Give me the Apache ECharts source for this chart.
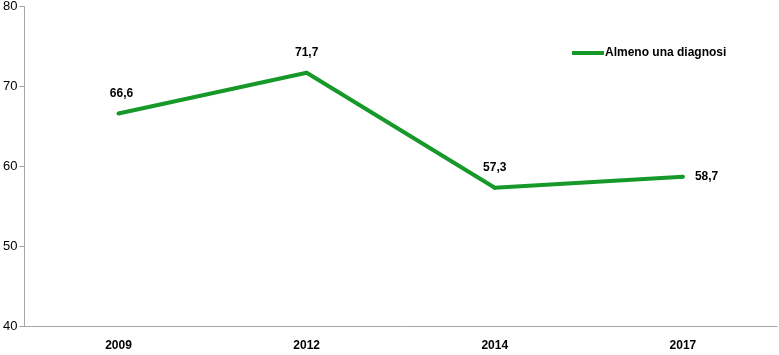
<!DOCTYPE html>
<html>
<head>
<meta charset="utf-8">
<script src="https://cdn.jsdelivr.net/npm/echarts@6/dist/echarts.min.js"></script>
<style>
  html, body { margin: 0; padding: 0; background: #fff; }
  #chart { width: 779px; height: 355px; }
</style>
</head>
<body>
<div id="chart"></div>
<script>
const years = ['2009', '2012', '2014', '2017'];
const values = [66.6, 71.7, 57.3, 58.7];
const seriesName = 'Almeno una diagnosi';

const green = '#17992a';

const chart = echarts.init(document.getElementById('chart'));

// ultimo valore a destra del punto, gli altri sopra
const seriesData = values.map((v, i) => {
  if (i === values.length - 1) {
    return { value: v, label: { position: 'right', distance: 10 } };
  }
  if (i === 0) {
    return { value: v, label: { offset: [3, 0] } };
  }
  return v;
});

const option = {
  animation: false,
  grid: { left: 24, right: 2, top: 6, bottom: 29 },
  legend: {
    data: [seriesName],
    left: 567,
    top: 42,
    itemWidth: 32,
    itemHeight: 4,
    itemGap: 0,
    icon: 'rect',
    itemStyle: { color: green, opacity: 1 },
    textStyle: {
      fontFamily: 'Liberation Sans',
      fontSize: 12,
      fontWeight: 'bold',
      color: '#000',
      padding: [0, 0, 0, -4]
    }
  },
  xAxis: {
    type: 'category',
    data: years,
    boundaryGap: true,
    axisLine: { lineStyle: { color: '#a6a6a6' } },
    axisTick: { length: 5, lineStyle: { color: '#a6a6a6' } },
    axisLabel: {
      fontFamily: 'Liberation Sans',
      fontSize: 12,
      fontWeight: 'bold',
      color: '#000',
      margin: 14
    }
  },
  yAxis: {
    type: 'value',
    min: 40,
    max: 80,
    interval: 10,
    splitLine: { show: false },
    axisLine: { show: true, lineStyle: { color: '#a6a6a6' } },
    axisTick: { show: true, length: 5, lineStyle: { color: '#a6a6a6' } },
    axisLabel: {
      fontFamily: 'Liberation Sans',
      fontSize: 13,
      color: '#000',
      margin: 7
    }
  },
  series: [
    {
      name: seriesName,
      type: 'line',
      data: seriesData,
      symbol: 'circle',
      symbolSize: 4,
      showSymbol: true,
      itemStyle: { color: green },
      lineStyle: { width: 4, color: green },
      label: {
        show: true,
        position: 'top',
        distance: 12,
        fontFamily: 'Liberation Sans',
        fontSize: 12,
        fontWeight: 'bold',
        color: '#000',
        formatter: p => String(p.value).replace('.', ',')
      }
    }
  ]
};

chart.setOption(option);
</script>
</body>
</html>
